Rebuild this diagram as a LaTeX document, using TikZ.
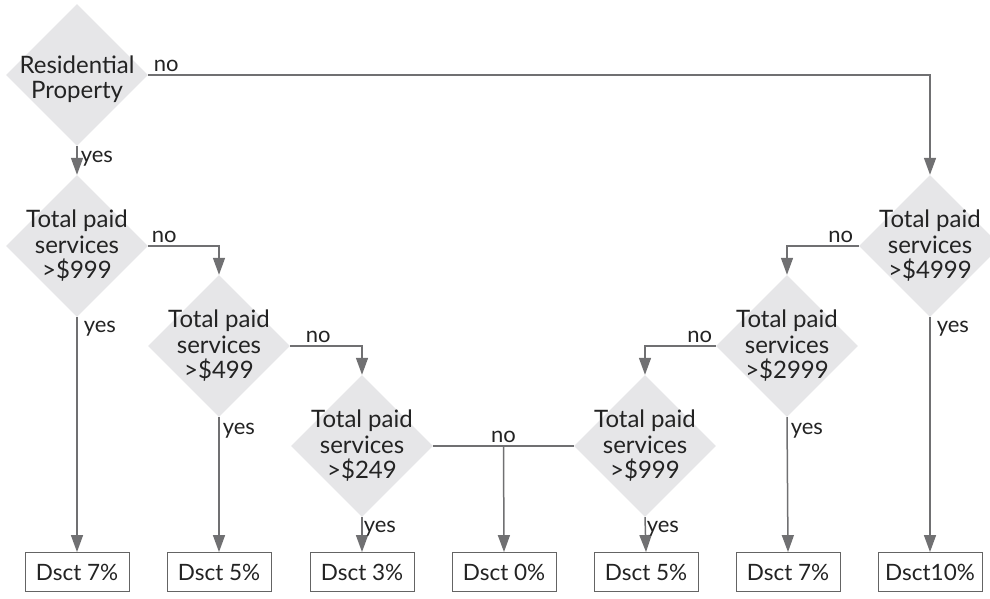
\documentclass[tikz,border=0pt]{standalone}
\usepackage{fontspec}
\setmainfont{Lato}
\usepackage{tikz}
\usetikzlibrary{arrows.meta, positioning, shapes.geometric}
\definecolor{diafill}{RGB}{230,230,232}
\definecolor{linegray}{RGB}{112,112,114}
\definecolor{boxgray}{RGB}{100,100,100}
\definecolor{inkgray}{RGB}{35,35,35}

\begin{document}
\begin{tikzpicture}[x=1pt, y=-1pt,
    decision/.style={diamond, fill=diafill, minimum width=142pt, minimum height=142pt, inner sep=0pt},
    qtext/.style={align=center, text=inkgray, font=\fontsize{24}{25.5}\selectfont},
    outcome/.style={draw=boxgray, line width=0.9pt, minimum width=104pt, minimum height=39pt, inner sep=0pt, text=inkgray, font=\fontsize{22.5}{25}\selectfont},
    flow/.style={draw=linegray, line width=1.5pt, -{Triangle[length=17pt, width=12pt]}},
    plain/.style={draw=linegray, line width=1.5pt},
    lbl/.style={text=inkgray, font=\fontsize{22}{24}\selectfont, inner sep=3pt}]
  \useasboundingbox (0,0) rectangle (990,598);
  \clip (0,0) rectangle (990,598);

  % decisions
  \node[decision, label={[qtext, yshift=-4pt]center:Residential\\Property}] (res) at (77,75) {};
  \node[decision, label={[qtext]center:Total paid\\services\\>\$999}] (t999) at (77,246) {};
  \node[decision, label={[qtext]center:Total paid\\services\\>\$499}] (t499) at (219,346) {};
  \node[decision, label={[qtext]center:Total paid\\services\\>\$249}] (t249) at (362,446) {};
  \node[decision, label={[qtext]center:Total paid\\services\\>\$999}] (c999) at (645,446) {};
  \node[decision, label={[qtext]center:Total paid\\services\\>\$2999}] (c2999) at (787,346) {};
  \node[decision, label={[qtext]center:Total paid\\services\\>\$4999}] (c4999) at (930,246) {};

  % discounts
  \node[outcome] (d1) at (77,572) {Dsct 7\%};
  \node[outcome] (d2) at (219,572) {Dsct 5\%};
  \node[outcome] (d3) at (362,572) {Dsct 3\%};
  \node[outcome] (d4) at (504,572) {Dsct 0\%};
  \node[outcome] (d5) at (646,572) {Dsct 5\%};
  \node[outcome] (d6) at (788,572) {Dsct 7\%};
  \node[outcome] (d7) at (930,572) {Dsct10\%};

  % residential branch
  \draw[flow] (res.south) -- node[lbl, right, pos=0.45] {yes} (t999.north);
  \draw[flow] (res.east) node[lbl, above right, xshift=2pt] {no} -| (c4999.north);

  % left side
  \draw[flow] (t999.east) node[lbl, above right] {no} -| (t499.north);
  \draw[flow] (t999.south) node[lbl, below right, xshift=3pt] {yes} -- (d1.north);
  \draw[flow] (t499.east) node[lbl, above right, xshift=12pt] {no} -| (t249.north);
  \draw[flow] (t499.south) node[lbl, below right, yshift=-2pt] {yes} -- (d2.north);
  \draw[flow] (t249.south) node[lbl, below right, xshift=-2pt] {yes} -- (d3.north);

  % middle, no discount
  \draw[plain] (t249.east) -- coordinate (split) (c999.west);
  \node[lbl, above] (nomid) at (split) {no};
  \draw[flow] (split) -- (d4.north);

  % right side
  \draw[flow] (c4999.west) node[lbl, above left, xshift=-2pt] {no} -| (c2999.north);
  \draw[flow] (c4999.south) node[lbl, below right, xshift=3pt] {yes} -- (d7.north);
  \draw[flow] (c2999.west) node[lbl, above left] {no} -| (c999.north);
  \draw[flow] (c2999.south) node[lbl, below right, yshift=-2pt] {yes} -- (d6.north);
  \draw[flow] (c999.south) node[lbl, below right, xshift=-2pt] {yes} -- (d5.north);
\end{tikzpicture}
\end{document}
